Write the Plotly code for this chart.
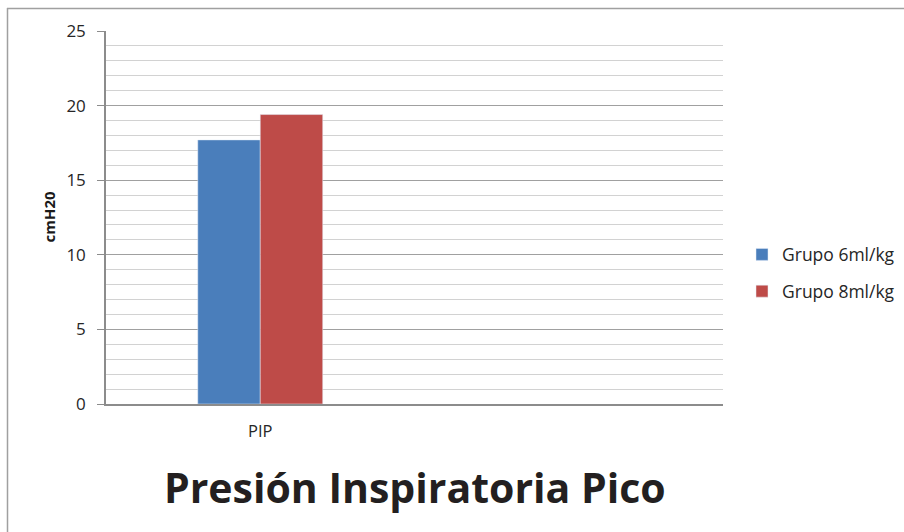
import plotly.graph_objects as go

# Peak inspiratory pressure by tidal-volume group
categories = ["PIP", " "]
grupo_6 = [17.7, None]
grupo_8 = [19.4, None]
series_names = ["Grupo 6ml/kg", "Grupo 8ml/kg"]
y_ticks = [0, 5, 10, 15, 20, 25]

FONT = "Open Sans"
W, H = 904, 532
L, R, T, B = 106, 181, 31, 128
pw, ph = W - L - R, H - T - B

def px_x(px):
    return (px - L) / pw

def px_y(py):
    return (H - B - py) / ph

fig = go.Figure()
fig.add_bar(x=categories, y=grupo_6, name=series_names[0], marker_color="#4A7EBB",
            legendgroup="g6")
fig.add_bar(x=categories, y=grupo_8, name=series_names[1], marker_color="#BE4B48",
            legendgroup="g8")

fig.update_layout(
    width=W, height=H,
    margin=dict(l=L, r=R, t=T, b=B, autoexpand=False),
    paper_bgcolor="white", plot_bgcolor="white",
    barmode="group", bargap=0.595, bargroupgap=0,
    font=dict(family=FONT, size=16, color="#262626"),
    showlegend=True,
    legend=dict(x=px_x(742), y=px_y(273), xanchor="left", yanchor="middle",
                font=dict(size=17.5, color="#262626"), tracegroupgap=11,
                itemwidth=30),
    xaxis=dict(showgrid=False, showline=True, linecolor="#8c8c8c", linewidth=1.5,
               ticks="", tickfont=dict(size=16.5), ticklabelstandoff=11),
    yaxis=dict(range=[0, 25], tickvals=y_ticks, ticks="outside", ticklen=7,
               tickcolor="#8c8c8c", showline=True, linecolor="#8c8c8c", linewidth=1.5,
               showgrid=True, gridcolor="#a0a0a0", gridwidth=1.2, zeroline=False,
               tickfont=dict(size=17), ticklabelstandoff=8,
               minor=dict(dtick=1, showgrid=True, gridcolor="#d2d2d2", gridwidth=1.2)),
    annotations=[
        dict(text="<b>cmH20</b>", x=px_x(36), y=0.5, xref="paper", yref="paper",
             textangle=-90, showarrow=False, font=dict(size=15, color="#1a1a1a")),
        dict(text="<b>Presión Inspiratoria Pico</b>", x=px_x(415), y=px_y(487),
             xref="paper", yref="paper", xanchor="center", yanchor="middle",
             showarrow=False, font=dict(size=41, color="#231f20")),
    ],
    shapes=[
        dict(type="line", xref="paper", yref="paper", x0=px_x(7), x1=px_x(910),
             y0=px_y(8.5), y1=px_y(8.5), line=dict(color="#a0a0a0", width=1.5)),
        dict(type="line", xref="paper", yref="paper", x0=px_x(7.5), x1=px_x(7.5),
             y0=px_y(8), y1=px_y(540), line=dict(color="#a0a0a0", width=1.5)),
    ],
)

fig.write_html("out.html")
